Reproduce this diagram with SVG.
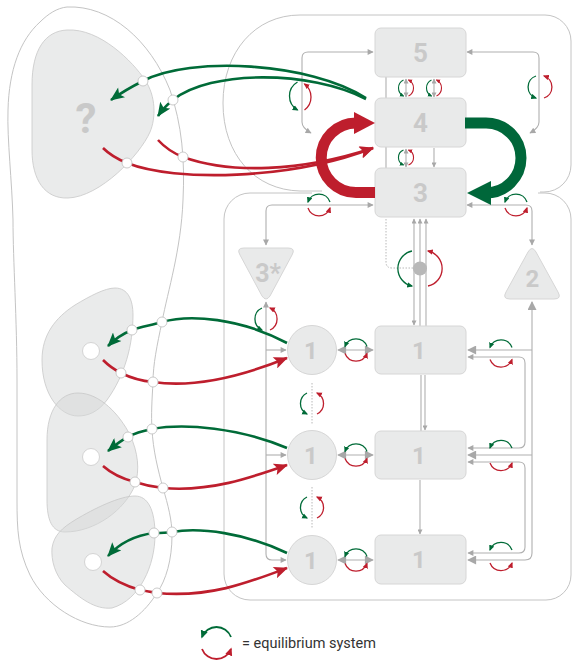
<svg xmlns="http://www.w3.org/2000/svg" width="572" height="660" viewBox="0 0 572 660">
<style>
.frame{fill:none;stroke:#c4c4c4;stroke-width:1}
.blob{fill:#d6d8d8;fill-opacity:0.5;stroke:#c8c8c8;stroke-width:0.8}
.node{fill:#e9eaea;stroke:#d6d6d6;stroke-width:1}
.lbl{font-family:Roboto,"Liberation Sans",sans-serif;font-weight:700;fill:#c9c9c9;text-anchor:middle}
.gl{fill:none;stroke:#b0b0b0;stroke-width:1.1}
.dot{fill:none;stroke:#b8b8b8;stroke-width:1;stroke-dasharray:1.5 1.5}
.tg{fill:none;stroke:#006b38;stroke-width:2.6}
.tr{fill:none;stroke:#be1e2d;stroke-width:2.6}
.eg{fill:none;stroke:#006b38;stroke-width:1.3;marker-end:url(#meg)}
.er{fill:none;stroke:#be1e2d;stroke-width:1.3;marker-end:url(#mer)}
.egs{fill:none;stroke:#006b38;stroke-width:1.1;marker-end:url(#megs)}
.ers{fill:none;stroke:#be1e2d;stroke-width:1.1;marker-end:url(#mers)}
.pc{fill:#fff;stroke:#c4c4c4;stroke-width:0.9}
</style>
<defs>
<marker id="ah" viewBox="0 0 10 10" refX="9" refY="5" markerUnits="userSpaceOnUse" markerWidth="7" markerHeight="6" orient="auto-start-reverse"><path d="M0,0 L10,5 L0,10 z" fill="#a8a8a8"/></marker>
<marker id="ahs" viewBox="0 0 10 10" refX="9" refY="5" markerUnits="userSpaceOnUse" markerWidth="6" markerHeight="5" orient="auto-start-reverse"><path d="M0,0 L10,5 L0,10 z" fill="#a8a8a8"/></marker>
<marker id="ahb" viewBox="0 0 10 10" refX="9" refY="5" markerUnits="userSpaceOnUse" markerWidth="11" markerHeight="9" orient="auto-start-reverse"><path d="M0,0 L10,5 L0,10 z" fill="#a8a8a8"/></marker>
<marker id="mg" viewBox="0 0 14 12" refX="13" refY="6" markerUnits="userSpaceOnUse" markerWidth="15" markerHeight="12" orient="auto"><path d="M0,0 L14,6 L0,12 L3,6 z" fill="#006b38"/></marker>
<marker id="mr" viewBox="0 0 14 12" refX="13" refY="6" markerUnits="userSpaceOnUse" markerWidth="15" markerHeight="12" orient="auto"><path d="M0,0 L14,6 L0,12 L3,6 z" fill="#be1e2d"/></marker>
<marker id="meg" viewBox="0 0 10 10" refX="8" refY="5" markerUnits="userSpaceOnUse" markerWidth="6" markerHeight="6" orient="auto"><path d="M0,0.5 L10,5 L0,9.5 z" fill="#006b38"/></marker>
<marker id="mer" viewBox="0 0 10 10" refX="8" refY="5" markerUnits="userSpaceOnUse" markerWidth="6" markerHeight="6" orient="auto"><path d="M0,0.5 L10,5 L0,9.5 z" fill="#be1e2d"/></marker>
<marker id="megs" viewBox="0 0 10 10" refX="8" refY="5" markerUnits="userSpaceOnUse" markerWidth="4.5" markerHeight="4.5" orient="auto"><path d="M0,0.5 L10,5 L0,9.5 z" fill="#006b38"/></marker>
<marker id="mers" viewBox="0 0 10 10" refX="8" refY="5" markerUnits="userSpaceOnUse" markerWidth="4.5" markerHeight="4.5" orient="auto"><path d="M0,0.5 L10,5 L0,9.5 z" fill="#be1e2d"/></marker>
<marker id="megl" viewBox="0 0 10 10" refX="8" refY="5" markerUnits="userSpaceOnUse" markerWidth="8" markerHeight="8" orient="auto"><path d="M0,0.5 L10,5 L0,9.5 z" fill="#006b38"/></marker>
<marker id="merl" viewBox="0 0 10 10" refX="8" refY="5" markerUnits="userSpaceOnUse" markerWidth="8" markerHeight="8" orient="auto"><path d="M0,0.5 L10,5 L0,9.5 z" fill="#be1e2d"/></marker>
</defs>

<g id="frames">
<path class="frame" d="M 300,15 H 545 A 26 26 0 0 1 571,41 V 165 A 27 27 0 0 1 544,192 H 540"/>
<path class="frame" d="M 300,15 C 255,15 223,52 223,103 C 223,155 255,190 300,191 H 322"/>
<path class="frame" d="M 538,193 H 545 A 26 26 0 0 1 571,219 V 575 A 25 25 0 0 1 546,600 H 250 A 26 26 0 0 1 224,574 V 219 A 26 26 0 0 1 250,193 H 312"/>
<path class="frame" d="M 67,7 C 110,5 150,40 170,90 C 182,125 185,160 183,200 C 181,250 168,290 162,322 C 157,345 153,365 153,382 C 152,400 151,415 152,429 C 153,450 158,470 163,488 C 168,505 172,520 172,535 C 172,560 166,580 157,593 C 145,612 128,627 110,627 C 80,627 45,605 30,575 C 18,550 17,530 17,500 L 17,380 C 17,320 13,260 13,220 C 12,180 7,140 8,110 C 9,70 20,40 40,22 C 48,14 57,8 67,7 Z"/>
</g>

<g id="blobs">
<g id="blob-q"><path class="blob" d="M 67,30 C 100,28 133,62 145,80 C 156,96 156,118 150,132 C 140,155 100,197 68,198 C 45,199 32,180 32,150 L 32,85 C 32,50 45,31 67,30 Z"/>
<text class="lbl" x="86" y="133" font-size="42">?</text></g>
<g id="blob-a"><path class="blob" d="M 115,288 C 128,288 133,300 133,315 C 133,345 125,375 107,400 C 98,412 88,416 78,416 C 60,416 42,395 42,360 C 42,335 55,318 75,305 C 90,296 105,288 115,288 Z"/><circle cx="91" cy="351" r="8.5" fill="#fff" stroke="#d4d4d4"/></g>
<g id="blob-b"><path class="blob" d="M 78,393 C 100,393 120,415 130,435 C 138,452 140,470 135,485 C 125,510 95,532 65,532 C 52,532 47,520 47,500 L 47,440 C 47,410 60,393 78,393 Z"/><circle cx="91" cy="457" r="8.5" fill="#fff" stroke="#d4d4d4"/></g>
<g id="blob-c"><path class="blob" d="M 135,496 C 148,496 155,510 155,535 C 155,565 140,600 112,608 C 95,610 80,598 65,585 C 55,575 51,560 52,548 C 54,535 62,528 75,520 C 95,508 120,496 135,496 Z"/><circle cx="93" cy="562" r="8.5" fill="#fff" stroke="#d4d4d4"/></g>
</g>

<g id="connectors">
<path class="gl" d="M 373,52 H 308 Q 302,52 302,58 V 122 Q 302,128 311,133" marker-start="url(#ah)" marker-end="url(#ah)"/>
<path class="gl" d="M 467,52 H 533 Q 539,52 539,58 V 122 Q 539,128 530,133" marker-start="url(#ah)" marker-end="url(#ah)"/>
<path class="gl" d="M 386,66 V 168"/>
<path class="gl" d="M 406,79 V 97" marker-start="url(#ahs)" marker-end="url(#ahs)"/>
<path class="gl" d="M 434,79 V 97" marker-start="url(#ahs)" marker-end="url(#ahs)"/>
<path class="gl" d="M 406,149 V 167" marker-start="url(#ahs)" marker-end="url(#ahs)"/>
<path class="gl" d="M 434,148 V 167" marker-end="url(#ahs)"/>
<path class="gl" d="M 414,219 V 325" marker-start="url(#ahs)" marker-end="url(#ahs)"/>
<path class="gl" d="M 420,326 V 219" marker-end="url(#ahs)"/>
<path class="gl" d="M 426,326 V 219" marker-end="url(#ahs)"/>
<path class="dot" d="M 386,219 V 262 Q 386,268 392,268 H 414"/>
<path class="gl" d="M 421,375 V 431"/>
<path class="gl" d="M 425,375 V 430" marker-end="url(#ahs)"/>
<path class="gl" d="M 420,480 V 534" marker-end="url(#ahs)"/>
<path class="gl" d="M 266,245 V 211 Q 266,205 272,205 H 373" marker-start="url(#ah)" marker-end="url(#ah)"/>
<path class="gl" d="M 467,205 H 526 Q 532,205 532,211 V 245" marker-start="url(#ah)" marker-end="url(#ah)"/>
<path class="gl" d="M 266,302 V 554 Q 266,560 272,560 H 286" marker-start="url(#ah)" marker-end="url(#ah)"/>
<path class="gl" d="M 266,350 H 286" marker-end="url(#ah)"/>
<path class="gl" d="M 266,455 H 286" marker-end="url(#ah)"/>
<path class="dot" d="M 312,383 V 424"/>
<path class="dot" d="M 312,487 V 529"/>
<path class="gl" d="M 338,350 H 373" marker-start="url(#ahb)" marker-end="url(#ahb)"/>
<path class="gl" d="M 338,455 H 373" marker-start="url(#ahb)" marker-end="url(#ahb)"/>
<path class="gl" d="M 338,560 H 373" marker-start="url(#ahb)" marker-end="url(#ahb)"/>
<path class="gl" d="M 532,302 V 553 Q 532,560 525,560 H 468" marker-start="url(#ahb)" marker-end="url(#ahb)"/>
<path class="gl" d="M 532,350 H 468" marker-end="url(#ahb)"/>
<path class="gl" d="M 532,455 H 468" marker-end="url(#ahb)"/>
<path class="gl" d="M 468,357 H 519 Q 525,357 525,363 V 442 Q 525,448 519,448 H 468" marker-start="url(#ah)" marker-end="url(#ah)"/>
<path class="gl" d="M 468,462 H 519 Q 525,462 525,468 V 547 Q 525,553 519,553 H 468" marker-start="url(#ah)" marker-end="url(#ah)"/>
<circle cx="386" cy="66" r="4.5" fill="#b5b5b5"/>
<circle cx="420" cy="268.5" r="7" fill="#b8b8b8"/>
</g>

<g id="node-5"><rect class="node" x="375" y="28" width="91" height="49" rx="6"/><text class="lbl" x="420.5" y="62" font-size="26">5</text></g>
<g id="node-4"><rect class="node" x="375" y="98" width="91" height="49" rx="6"/><text class="lbl" x="420.5" y="132" font-size="26">4</text></g>
<g id="node-3"><rect class="node" x="375" y="168" width="91" height="49" rx="6"/><text class="lbl" x="420.5" y="202" font-size="26">3</text></g>
<g id="node-3star"><path class="node" d="M 244,248 H 288 Q 296,248 292,255 L 270,296 Q 266,302 262,296 L 240,255 Q 236,248 244,248 Z"/><text class="lbl" x="268" y="282" font-size="25">3*</text></g>
<g id="node-2"><path class="node" d="M 510,299 H 554 Q 562,299 558,292 L 536,252 Q 532,245 528,252 L 506,292 Q 502,299 510,299 Z"/><text class="lbl" x="532.5" y="287" font-size="24">2</text></g>
<g id="node-c1"><circle class="node" cx="312" cy="350" r="24.5"/><text class="lbl" x="311" y="359" font-size="24">1</text></g>
<g id="node-c2"><circle class="node" cx="312" cy="455" r="24.5"/><text class="lbl" x="311" y="464" font-size="24">1</text></g>
<g id="node-c3"><circle class="node" cx="312" cy="560" r="24.5"/><text class="lbl" x="311" y="569" font-size="24">1</text></g>
<g id="node-b1"><rect class="node" x="375" y="326" width="91" height="48" rx="6"/><text class="lbl" x="419" y="359" font-size="24">1</text></g>
<g id="node-b2"><rect class="node" x="375" y="431" width="91" height="48" rx="6"/><text class="lbl" x="419" y="464" font-size="24">1</text></g>
<g id="node-b3"><rect class="node" x="375" y="535" width="91" height="49" rx="6"/><text class="lbl" x="419" y="568" font-size="24">1</text></g>

<g id="big-arrows">
<path d="M 375,192.5 H 356 A 34.75 34.75 0 0 1 356,123 H 358" fill="none" stroke="#be1e2d" stroke-width="11"/>
<polygon points="354,112 375,123 354,134" fill="#be1e2d"/>
<path d="M 465,123 H 486 A 35 35 0 0 1 486,193 H 489" fill="none" stroke="#00673a" stroke-width="11"/>
<polygon points="491,181 467,193 491,205" fill="#00673a"/>
</g>

<g id="colored-arrows">
<path class="tg" d="M 366,98 C 310,62 190,56 143,81 Q 125,90 111,100" marker-end="url(#mg)"/>
<path class="tg" d="M 366,99 C 310,70 210,70 173,100 Q 164,107 158,116" marker-end="url(#mg)"/>
<path class="tr" d="M 103,148 Q 112,157 127,163 C 175,182 290,180 373,148" marker-end="url(#mr)"/>
<path class="tr" d="M 158,140 Q 168,151 183,157 C 230,174 300,172 373,148" marker-end="url(#mr)"/>
<path class="tg" d="M 287,343 C 240,318 190,314 162,322 C 152,325 140,327 132,330 C 122,334 114,340 108,346" marker-end="url(#mg)"/>
<path class="tr" d="M 103,360 C 110,367 115,370 121,373 C 131,378 142,381 153,382 C 200,389 250,373 287,358" marker-end="url(#mr)"/>
<path class="tg" d="M 287,448 C 240,428 185,423 152,429 C 142,431 135,433 128,437 C 120,441 114,446 108,451" marker-end="url(#mg)"/>
<path class="tr" d="M 103,466 C 112,474 123,479 135,482 C 144,485 153,487 163,488 C 210,492 250,478 287,465" marker-end="url(#mr)"/>
<path class="tg" d="M 287,553 C 245,533 200,527 172,532 C 165,533 160,533 154,533 C 130,536 117,546 108,556" marker-end="url(#mg)"/>
<path class="tr" d="M 103,571 C 113,580 126,586 140,590 C 146,591 151,592 157,593 C 210,598 250,582 287,568" marker-end="url(#mr)"/>
</g>

<g id="ports">
<circle class="pc" cx="143" cy="81" r="5"/><circle class="pc" cx="173" cy="100" r="5"/>
<circle class="pc" cx="127" cy="163" r="5"/><circle class="pc" cx="183" cy="157" r="5"/>
<circle class="pc" cx="162" cy="322" r="5"/><circle class="pc" cx="132" cy="330" r="5"/>
<circle class="pc" cx="121" cy="373" r="5"/><circle class="pc" cx="153" cy="382" r="5"/>
<circle class="pc" cx="152" cy="429" r="5"/><circle class="pc" cx="128" cy="437" r="5"/>
<circle class="pc" cx="135" cy="482" r="5"/><circle class="pc" cx="163" cy="488" r="5"/>
<circle class="pc" cx="172" cy="532" r="5"/><circle class="pc" cx="154" cy="533" r="5"/>
<circle class="pc" cx="140" cy="590" r="5"/><circle class="pc" cx="157" cy="593" r="5"/>
</g>

<g id="equilibria">
<path class="eg" d="M 367,346.5 A 11.8 11.8 0 0 0 345,346.5"/><path class="er" d="M 345,353.5 A 11.8 11.8 0 0 0 367,353.5"/>
<path class="eg" d="M 367,451.5 A 11.8 11.8 0 0 0 345,451.5"/><path class="er" d="M 345,458.5 A 11.8 11.8 0 0 0 367,458.5"/>
<path class="eg" d="M 367,556.5 A 11.8 11.8 0 0 0 345,556.5"/><path class="er" d="M 345,563.5 A 11.8 11.8 0 0 0 367,563.5"/>
<path class="eg" d="M 512,347.5 A 11.8 11.8 0 0 0 490,347.5"/><path class="er" d="M 490,359.5 A 11.8 11.8 0 0 0 512,359.5"/>
<path class="eg" d="M 512,448 A 11.8 11.8 0 0 0 490,448"/><path class="er" d="M 490,463 A 11.8 11.8 0 0 0 512,463"/>
<path class="eg" d="M 512,550 A 11.8 11.8 0 0 0 490,550"/><path class="er" d="M 490,563 A 11.8 11.8 0 0 0 512,563"/>
<path class="eg" d="M 330,202 A 11.6 11.6 0 0 0 308,202"/><path class="er" d="M 308,208 A 11.6 11.6 0 0 0 330,208"/>
<path class="eg" d="M 527,202 A 11.6 11.6 0 0 0 505,202"/><path class="er" d="M 505,208 A 11.6 11.6 0 0 0 527,208"/>
<path class="eg" d="M 307,393 A 11.7 11.7 0 0 0 307,414"/><path class="er" d="M 317,414 A 11.7 11.7 0 0 0 317,393"/>
<path class="eg" d="M 307,497 A 11.7 11.7 0 0 0 307,518"/><path class="er" d="M 317,518 A 11.7 11.7 0 0 0 317,497"/>
<path class="eg" d="M 262,308 A 12.1 12.1 0 0 0 262,330"/><path class="er" d="M 270,330 A 12.1 12.1 0 0 0 270,308"/>
<path class="eg" d="M 297.5,82 A 16.25 16.25 0 0 0 297.5,110"/><path class="er" d="M 304.5,110 A 16.25 16.25 0 0 0 304.5,84"/>
<path class="eg" d="M 536,76 A 11.6 11.6 0 0 0 536,98"/><path class="er" d="M 544,98 A 11.6 11.6 0 0 0 544,76"/>
<path class="eg" d="M 412,251 A 17.9 17.9 0 0 0 412,286"/><path class="er" d="M 428,286 A 17.9 17.9 0 0 0 428,251"/>
<path class="egs" d="M 403.5,80 A 8.9 8.9 0 0 0 403.5,96"/><path class="ers" d="M 408.5,96 A 8.9 8.9 0 0 0 408.5,80"/>
<path class="egs" d="M 431.5,80 A 8.9 8.9 0 0 0 431.5,96"/><path class="ers" d="M 436.5,96 A 8.9 8.9 0 0 0 436.5,80"/>
<path class="egs" d="M 403.5,150 A 8.1 8.1 0 0 0 403.5,165"/><path class="ers" d="M 408.5,165 A 8.1 8.1 0 0 0 408.5,150"/>
</g>

<g id="legend">
<path d="M 231,637 A 15.5 15.5 0 0 0 202,637" fill="none" stroke="#006b38" stroke-width="1.8" marker-end="url(#megl)"/>
<path d="M 202,649 A 15.5 15.5 0 0 0 231,649" fill="none" stroke="#be1e2d" stroke-width="1.8" marker-end="url(#merl)"/>
<text x="242" y="648" font-family="Roboto,'Liberation Sans',sans-serif" font-size="14.5" fill="#333">= equilibrium system</text>
</g>
</svg>
